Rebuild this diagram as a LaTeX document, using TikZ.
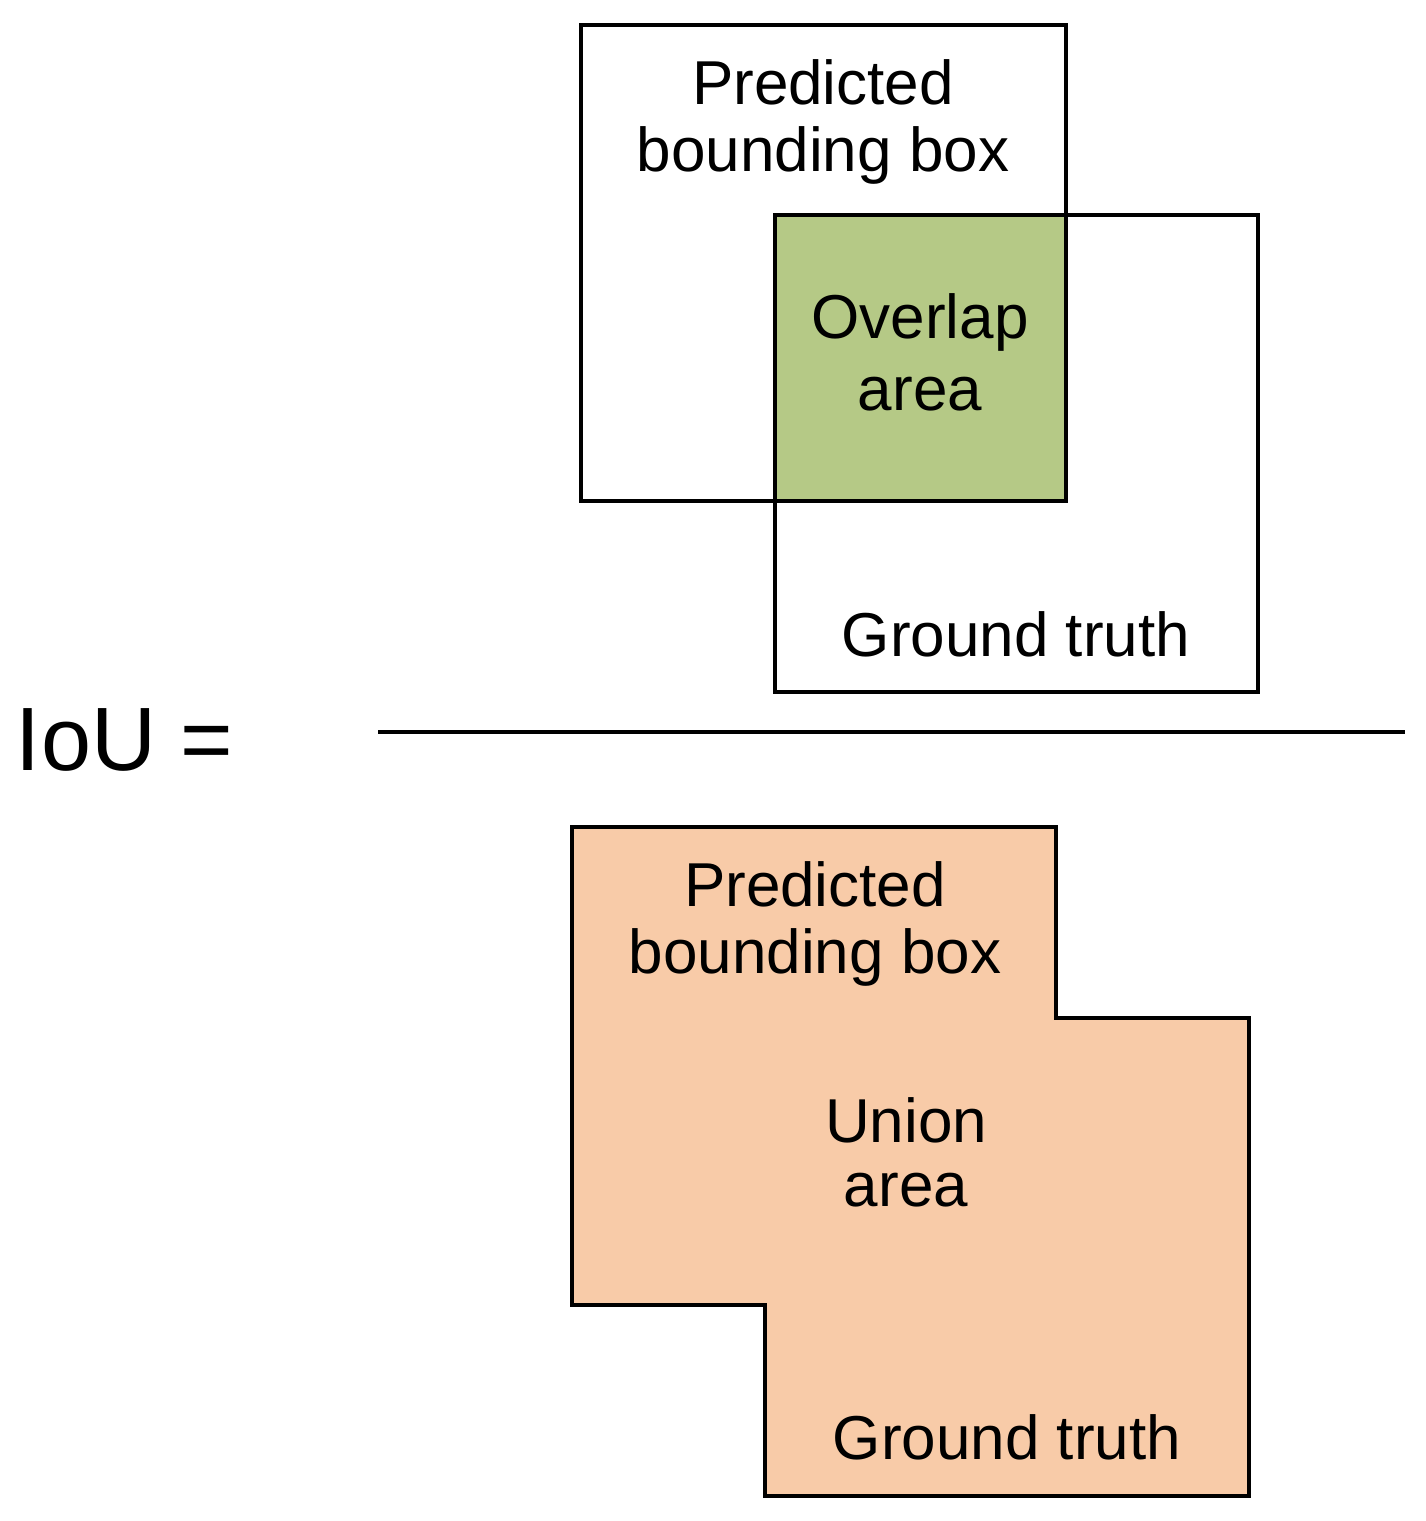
\documentclass[tikz,border=0pt]{standalone}
\usepackage{fontspec}
\setmainfont{Liberation Sans}
\begin{document}
\begin{tikzpicture}[x=1pt,y=-1pt,line width=4pt,
  lbl/.style={font=\fontsize{62}{72}\selectfont,inner sep=0pt,anchor=center}]
\useasboundingbox (0,0) rectangle (1426,1521);
\fill[fill={rgb,255:red,181;green,201;blue,134}] (775,215) rectangle (1066,501);
\draw (581,25) rectangle (1066,501);
\draw (775,215) rectangle (1258,692);
\node[lbl] (p1) at (823,82) {Predicted};
\node[lbl] (p2) at (823,155) {bounding box};
\node[lbl] (o1) at (920,322) {Overlap};
\node[lbl] (o2) at (920,394) {area};
\node[lbl] (g1) at (1016,634) {Ground truth};
\node[font=\fontsize{90}{100}\selectfont,inner sep=0pt,anchor=west] (iou) at (14,740) {IoU =};
\coordinate (la) at (378,732); \coordinate (lb) at (1405,732);
\draw[line width=3.5pt] (la) -- (lb);
\draw[fill={rgb,255:red,248;green,203;blue,168}] (572,827) -- (1056,827) -- (1056,1018) -- (1249,1018) -- (1249,1496) -- (765,1496) -- (765,1305) -- (572,1305) -- cycle;
\node[lbl] (q1) at (815,884) {Predicted};
\node[lbl] (q2) at (815,957) {bounding box};
\node[lbl] (u1) at (906,1120) {Union};
\node[lbl] (u2) at (906,1190) {area};
\node[lbl] (h1) at (1007,1437) {Ground truth};
\end{tikzpicture}
\end{document}
